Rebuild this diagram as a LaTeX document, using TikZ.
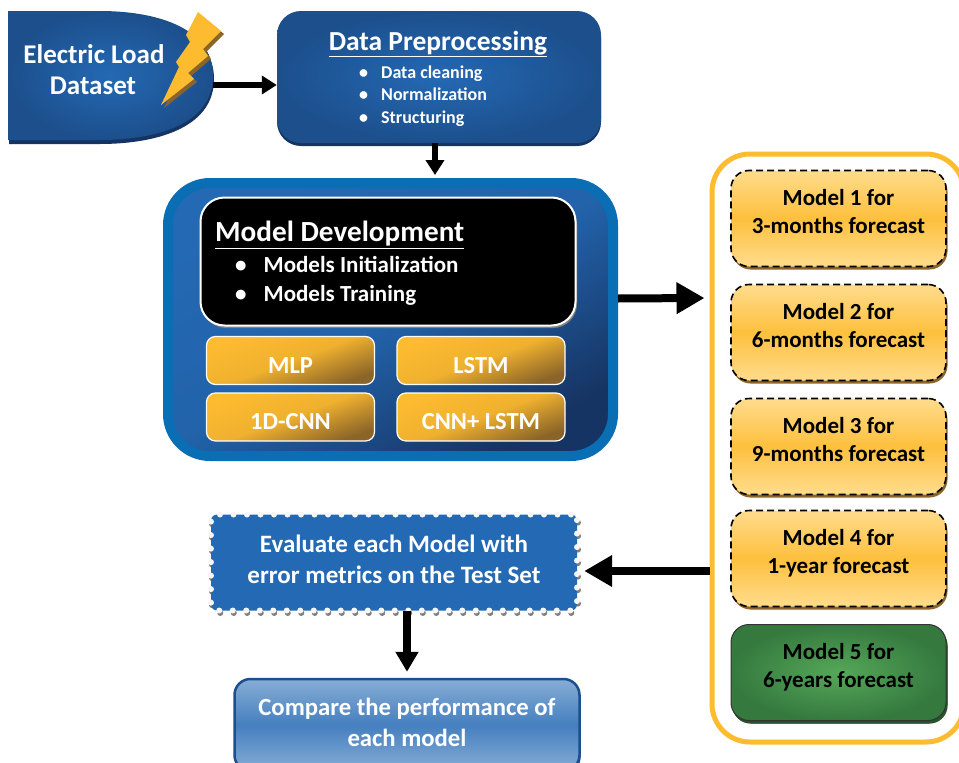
\documentclass[tikz,border=0pt]{standalone}
\usepackage{fontspec}
\setmainfont{Carlito}
\usepackage{tikz}
\usetikzlibrary{arrows.meta}
\usetikzlibrary{calc}
\usetikzlibrary{shadows}

\definecolor{blueface}{HTML}{2469B4}
\definecolor{blueedge}{HTML}{1C4F8C}
\definecolor{bluedark}{HTML}{163463}
\definecolor{blueline}{HTML}{0A6EB4}
\definecolor{gold}{HTML}{FDBB30}
\definecolor{goldlight}{HTML}{FFDC8C}
\definecolor{golddark}{HTML}{8A6428}
\definecolor{leafin}{HTML}{55A858}
\definecolor{leafout}{HTML}{35793F}

\tikzset{
	flow/.style={-{Triangle[length=15pt,width=18pt]},line width=6pt},
	midflow/.style={-{Triangle[length=20pt,width=22pt]},line width=8pt},
	bigflow/.style={-{Triangle[length=28pt,width=30pt]},line width=8pt},
	tile/.style={inner sep=0pt,rounded corners=9pt,draw=white,line width=1.2pt,
		text=white,font=\bfseries\fontsize{24.5}{24.5}\selectfont,text height=25pt,text depth=0pt,
		minimum width=168pt,minimum height=48pt,
		top color=gold,bottom color=golddark,middle color=gold!88!golddark,shading angle=20},
	model/.style={inner sep=0pt,rounded corners=18pt,align=center,
		minimum width=215pt,minimum height=96pt,
		font=\bfseries\fontsize{23}{27.5}\selectfont,
		drop shadow={shadow xshift=1.5pt,shadow yshift=-3pt,fill=golddark,opacity=1}},
	bullets/.style={text=white,align=left,anchor=west,inner sep=0pt}
}

\begin{document}
\begin{tikzpicture}[x=1pt,y=-1pt]
\useasboundingbox (0,0) rectangle (959,763);

\fill[bluedark] (9,15) -- (100,15) to [out=0,in=90] (214,79) to [out=-90,in=0] (100,144) -- (9,144) -- cycle;
\shade[inner color=blueface,outer color=blueedge] (8,11) -- (100,11) to [out=0,in=90] (213,76) to [out=-90,in=0] (100,140) -- (8,140) -- cycle;
\draw (110.5,75.5) node[minimum width=205pt,minimum height=130pt,inner sep=0pt] (dataset) {};
\draw (94,54) node[text=white,font=\bfseries\fontsize{27}{27}\selectfont] (datasetname) {Electric Load};
\draw (93,86) node[text=white,font=\bfseries\fontsize{27}{27}\selectfont] (datasetnametwo) {Dataset};

\foreach \s/\c in {3/golddark,0/gold}
	\fill[\c,shift={(\s,\s)}] (198,12) -- (221,31) -- (203,49) -- (208,56) -- (188,73) -- (194,79) -- (161,105) -- (179,67) -- (176,62) -- (190,42) -- (186,35) -- cycle;

\draw (439,77) node[minimum width=324pt,minimum height=132pt,inner sep=0pt,rounded corners=24pt,
	inner color=blueface,outer color=blueedge,
	drop shadow={shadow xshift=0pt,shadow yshift=-3pt,fill=bluedark,opacity=1}] (prep) {};
\draw (438,44) node[text=white,font=\bfseries\fontsize{27.5}{27.5}\selectfont] (preptitle) {\underline{Data Preprocessing}};
\draw (359,96) node[bullets,font=\bfseries\fontsize{18}{22.5}\selectfont] (preplist)
	{\textbullet\hspace{13pt}Data cleaning\\\textbullet\hspace{13pt}Normalization\\\textbullet\hspace{13pt}Structuring};

\draw (390.5,319.5) node[minimum width=445pt,minimum height=273pt,inner sep=0pt,rounded corners=42pt,
	draw=blueline,line width=10pt,top color=blueface,bottom color=bluedark,middle color=blueface!75!blueedge,shading angle=30] (develop) {};
\draw (388,261.5) node[minimum width=375pt,minimum height=128pt,inner sep=0pt,rounded corners=24pt,
	draw=white,line width=2pt,fill=black,drop shadow={shadow xshift=1.5pt,shadow yshift=-2.5pt,fill=gray,opacity=1}] (train) {};
\draw (215,235) node[bullets,font=\bfseries\fontsize{29.2}{29.2}\selectfont] (traintitle) {\underline{Model Development}};
\draw (235,281) node[bullets,font=\bfseries\fontsize{23}{29.5}\selectfont] (trainlist)
	{\textbullet\hspace{17pt}Models Initialization\\\textbullet\hspace{17pt}Models Training};

\draw (290.5,360.5) node[tile] (mlp) {MLP};
\draw (481,360.5) node[tile] (lstm) {LSTM};
\draw (290.5,417) node[tile] (cnn) {1D-CNN};
\draw (481,417) node[tile] (cnnlstm) {CNN+ LSTM};

\draw (838,448) node[minimum width=252pt,minimum height=588pt,inner sep=0pt,rounded corners=38pt,
	draw=gold,line width=5pt] (panel) {};

\foreach \y/\n/\a/\b in {218.5/1/Model 1 for/3-months forecast,332.5/2/Model 2 for/6-months forecast,446.5/3/Model 3 for/9-months forecast,558.5/4/Model 4 for/1-year forecast}
	\draw (838.5,\y) node[model,draw=black,line width=1.6pt,dash pattern=on 7pt off 4pt,
		top color=goldlight,bottom color=goldlight,middle color=gold!85!goldlight] (model\n) {\a\\\b\\[-13.5pt]\mbox{}};
\draw (838.5,672.5) node[model,draw=black!80,line width=1pt,inner color=leafin,outer color=leafout,
	drop shadow={shadow xshift=1.5pt,shadow yshift=-3pt,fill=leafout!70!black,opacity=1}] (model5) {Model 5 for\\6-years forecast\\[-13.5pt]\mbox{}};

\draw (394,562.5) node[minimum width=366pt,minimum height=96pt,inner sep=0pt,rounded corners=6pt,fill=blueface,
	text=white,align=center,font=\bfseries\fontsize{25}{31}\selectfont,
	preaction={draw=gray,line width=6pt,line cap=round,dash pattern=on 0pt off 13.5pt,transform canvas={shift={(1pt,-2.5pt)}}},
	postaction={draw=white!92!gray,line width=6pt,line cap=round,dash pattern=on 0pt off 13.5pt}] (evaluate)
	{Evaluate each Model with\\error metrics on the Test Set\\[-25pt]\mbox{}};

\draw (407,725) node[minimum width=345pt,minimum height=92pt,inner sep=0pt,rounded corners=16pt,
	draw=blueedge,line width=2.5pt,top color=blueface!55!white,bottom color=blueface!55!white,middle color=blueface!85!white,
	text=white,align=center,font=\bfseries\fontsize{24.7}{31}\selectfont,
	drop shadow={shadow xshift=1pt,shadow yshift=-2.5pt,fill=bluedark,opacity=1}] (compare)
	{Compare the performance of\\each model\\[-25pt]\mbox{}};

\draw[flow] (dataset.east |- 0,85) -- (prep.west |- 0,85);
\draw[flow] (435,143) -- (435,175);
\draw[bigflow] ($(develop.east)+(0,-21)$) -- ($(panel.west)+(-5,-150)$);
\draw[bigflow] (panel.west |- 0,571) -- ($(evaluate.east |- 0,571)+(7,0)$);
\draw[midflow] (evaluate.south -| compare.north) -- ($(compare.north)+(0,-6)$);
\end{tikzpicture}
\end{document}
